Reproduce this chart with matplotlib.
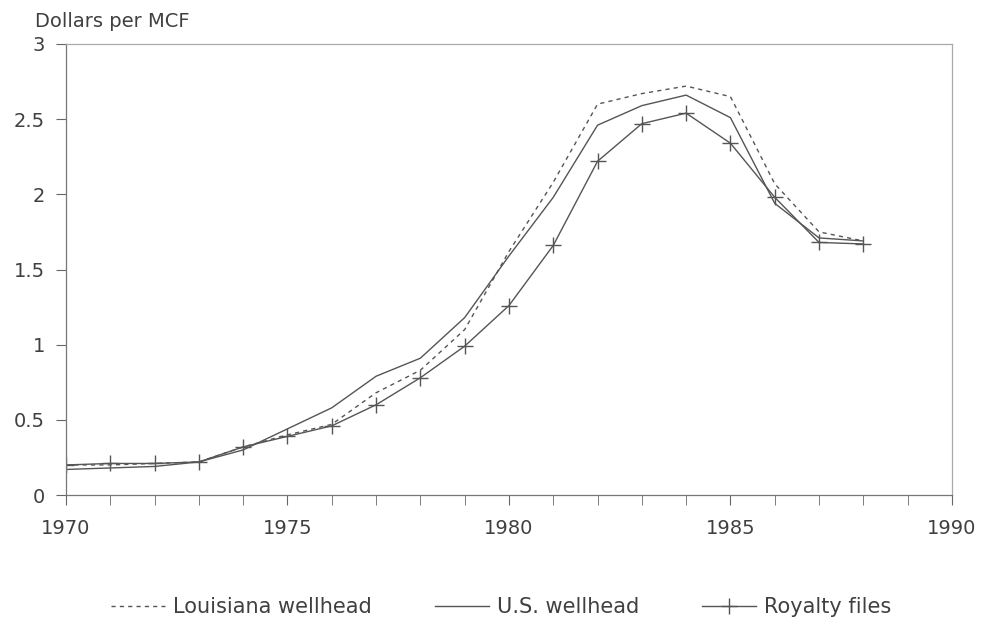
import matplotlib
matplotlib.use('Agg')
import matplotlib.pyplot as plt
from matplotlib.ticker import MultipleLocator

years = list(range(1970, 1989))

louisiana = [0.20, 0.20, 0.21, 0.22, 0.32, 0.40, 0.47, 0.68, 0.83, 1.10,
             1.62, 2.08, 2.60, 2.67, 2.72, 2.65, 2.07, 1.75, 1.69]
us_wellhead = [0.17, 0.18, 0.19, 0.22, 0.30, 0.44, 0.58, 0.79, 0.91, 1.18,
               1.59, 1.98, 2.46, 2.59, 2.66, 2.51, 1.94, 1.71, 1.69]
royalty = [0.20, 0.21, 0.21, 0.22, 0.32, 0.39, 0.46, 0.60, 0.78, 0.99,
           1.26, 1.66, 2.22, 2.47, 2.54, 2.34, 1.98, 1.68, 1.67]

ytick_vals = [0, 0.5, 1, 1.5, 2, 2.5, 3]
ytick_text = ['0', '0.5', '1', '1.5', '2', '2.5', '3']

plt.rcParams['font.family'] = ['DejaVu Sans']
ink = '#404040'
line_col = '#555555'

fig = plt.figure(figsize=(9.83, 6.24), dpi=100)
ax = fig.add_axes([0.0671, 0.2067, 0.9013, 0.7228])

ax.plot(years, louisiana, color=line_col, lw=1.0, ls=(0, (3, 3)), label='Louisiana wellhead')
ax.plot(years, us_wellhead, color=line_col, lw=1.0, label='U.S. wellhead')
ax.plot(years, royalty, color=line_col, lw=1.0, marker='+', markersize=12,
        markeredgewidth=1.0, label='Royalty files')

ax.set_xlim(1970, 1990)
ax.set_ylim(0, 3)
ax.xaxis.set_major_locator(MultipleLocator(5))
ax.xaxis.set_minor_locator(MultipleLocator(1))
ax.set_yticks(ytick_vals)
ax.set_yticklabels(ytick_text)

for s in ax.spines.values():
    s.set_color('#777777')
    s.set_linewidth(0.9)
ax.spines['top'].set_color('#aaaaaa')
ax.spines['right'].set_color('#aaaaaa')

ax.tick_params(axis='both', which='both', direction='out', colors='#666666',
               labelcolor=ink, labelsize=14)
ax.tick_params(axis='x', which='both', length=7, pad=10)
ax.tick_params(axis='y', which='major', length=7, pad=8)

fig.text(0.036, 0.966, 'Dollars per MCF', fontsize=14, color=ink, ha='left', va='center')

# legend along the bottom, three columns
leg = fig.legend(loc='center', bbox_to_anchor=(0.51, 0.027), ncol=3, frameon=False,
                 fontsize=15, handlelength=2.6, columnspacing=3.0, handletextpad=0.4)
for t in leg.get_texts():
    t.set_color(ink)

fig.savefig('out.png', dpi=100)
